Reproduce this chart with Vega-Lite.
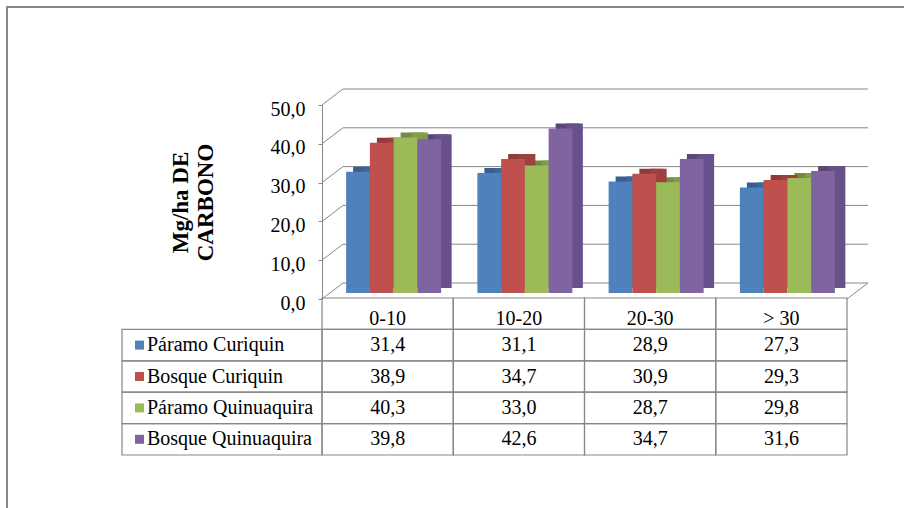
{
  "$schema": "https://vega.github.io/schema/vega-lite/v6.json",
  "width": 900,
  "height": 505,
  "autosize": {"type": "none"},
  "padding": {"left": 7, "top": 7, "right": 0, "bottom": 0},
  "background": "white",
  "config": {
    "view": {"stroke": "#878787", "strokeWidth": 2},
    "locale": {"number": {"decimal": ",", "thousands": ".", "grouping": [3], "currency": ["", " €"]}},
    "font": "Liberation Serif"
  },
  "datasets": {
    "carbono": [
      {"cat": "0-10", "serie": "Páramo Curiquin", "v": 31.4},
      {"cat": "0-10", "serie": "Bosque Curiquin", "v": 38.9},
      {"cat": "0-10", "serie": "Páramo Quinuaquira", "v": 40.3},
      {"cat": "0-10", "serie": "Bosque Quinuaquira", "v": 39.8},
      {"cat": "10-20", "serie": "Páramo Curiquin", "v": 31.1},
      {"cat": "10-20", "serie": "Bosque Curiquin", "v": 34.7},
      {"cat": "10-20", "serie": "Páramo Quinuaquira", "v": 33.0},
      {"cat": "10-20", "serie": "Bosque Quinuaquira", "v": 42.6},
      {"cat": "20-30", "serie": "Páramo Curiquin", "v": 28.9},
      {"cat": "20-30", "serie": "Bosque Curiquin", "v": 30.9},
      {"cat": "20-30", "serie": "Páramo Quinuaquira", "v": 28.7},
      {"cat": "20-30", "serie": "Bosque Quinuaquira", "v": 34.7},
      {"cat": "> 30", "serie": "Páramo Curiquin", "v": 27.3},
      {"cat": "> 30", "serie": "Bosque Curiquin", "v": 29.3},
      {"cat": "> 30", "serie": "Páramo Quinuaquira", "v": 29.8},
      {"cat": "> 30", "serie": "Bosque Quinuaquira", "v": 31.6}
    ],
    "ticks": [{"v": 0}, {"v": 10}, {"v": 20}, {"v": 30}, {"v": 40}, {"v": 50}],
    "series": [{"serie": "Páramo Curiquin"}, {"serie": "Bosque Curiquin"}, {"serie": "Páramo Quinuaquira"}, {"serie": "Bosque Quinuaquira"}],
    "cats": [{"cat": "0-10"}, {"cat": "10-20"}, {"cat": "20-30"}, {"cat": "> 30"}]
  },
  "resolve": {"scale": {"x": "independent", "y": "independent", "color": "independent", "xOffset": "independent"}},
  "layer": [
    {
      "data": {"name": "ticks"},
      "mark": {"type": "rule", "color": "#878787", "strokeWidth": 1, "xOffset": 21, "x2Offset": 21, "yOffset": -16},
      "encoding": {
        "x": {"datum": 0, "type": "quantitative", "scale": {"domain": [0, 1], "range": [315, 840]}, "axis": null},
        "x2": {"datum": 1},
        "y": {"field": "v", "type": "quantitative", "scale": {"domain": [0, 50], "range": [292, 98], "nice": false},
          "axis": {"orient": "left", "offset": -315, "values": [0, 10, 20, 30, 40, 50], "format": ".1f", "grid": false,
            "domainColor": "#878787", "tickColor": "#878787", "tickSize": 4, "labelPadding": 13,
            "labelFont": "Liberation Serif", "labelFontSize": 20, "labelColor": "black", "labelOffset": 4,
            "title": ["Mg/ha DE", "CARBONO"], "titleFont": "Liberation Serif", "titleFontSize": 23, "titleFontWeight": "bold",
            "titleColor": "black", "titlePadding": 53, "titleLineHeight": 25}}
      }
    },
    {
      "data": {"name": "ticks"},
      "mark": {"type": "rule", "color": "#878787", "strokeWidth": 1, "x2Offset": 21, "y2Offset": -16},
      "encoding": {
        "x": {"datum": 0, "type": "quantitative", "scale": {"domain": [0, 1], "range": [315, 840]}, "axis": null},
        "x2": {"datum": 0},
        "y": {"field": "v", "type": "quantitative", "scale": {"domain": [0, 50], "range": [292, 98], "nice": false}, "axis": null},
        "y2": {"field": "v"}
      }
    },
    {
      "data": {"name": "ticks"},
      "transform": [{"filter": "datum.v == 0"}],
      "mark": {"type": "rule", "color": "#878787", "strokeWidth": 1, "x2Offset": 21, "y2Offset": -16},
      "encoding": {
        "x": {"datum": 1, "type": "quantitative", "scale": {"domain": [0, 1], "range": [315, 840]}, "axis": null},
        "x2": {"datum": 1},
        "y": {"field": "v", "type": "quantitative", "scale": {"domain": [0, 50], "range": [292, 98], "nice": false}, "axis": null},
        "y2": {"field": "v"}
      }
    },
    {
      "data": {"name": "carbono"},
      "mark": {"type": "bar"},
      "encoding": {
        "x": {"field": "cat", "type": "nominal", "sort": null, "scale": {"domain": ["0-10", "10-20", "20-30", "> 30"], "range": [328, 853], "paddingInner": 0.2762, "paddingOuter": 0.1381}, "axis": null},
        "xOffset": {"field": "serie", "type": "nominal", "scale": {"domain": ["Páramo Curiquin", "Bosque Curiquin", "Páramo Quinuaquira", "Bosque Quinuaquira"]}},
        "y": {"field": "v", "type": "quantitative", "scale": {"domain": [0, 50], "range": [281, 88], "nice": false}, "axis": null},
        "color": {"field": "serie", "type": "nominal", "scale": {"domain": ["Páramo Curiquin", "Bosque Curiquin", "Páramo Quinuaquira", "Bosque Quinuaquira"], "range": ["#375E8E", "#8F3B39", "#738B42", "#5A4775"]}, "legend": null}
      }
    },
    {
      "data": {"name": "carbono"},
      "mark": {"type": "bar", "width": {"band": 0.705}},
      "encoding": {
        "x": {"field": "cat", "type": "nominal", "sort": null, "scale": {"domain": ["0-10", "10-20", "20-30", "> 30"], "range": [324.5, 849.5], "paddingInner": 0.2762, "paddingOuter": 0.1381}, "axis": null},
        "xOffset": {"field": "serie", "type": "nominal", "scale": {"domain": ["Páramo Curiquin", "Bosque Curiquin", "Páramo Quinuaquira", "Bosque Quinuaquira"]}},
        "y": {"field": "v", "type": "quantitative", "scale": {"domain": [0, 50], "range": [281, 88], "nice": false}, "axis": null},
        "color": {"field": "serie", "type": "nominal", "scale": {"domain": ["Páramo Curiquin", "Bosque Curiquin", "Páramo Quinuaquira", "Bosque Quinuaquira"], "range": ["#3E6899", "#A0403E", "#819D49", "#68518A"]}, "legend": null}
      }
    },
    {
      "data": {"name": "carbono"},
      "mark": {"type": "bar"},
      "encoding": {
        "x": {"field": "cat", "type": "nominal", "sort": null, "scale": {"domain": ["0-10", "10-20", "20-30", "> 30"], "range": [321, 846], "paddingInner": 0.2762, "paddingOuter": 0.1381}, "axis": null},
        "xOffset": {"field": "serie", "type": "nominal", "scale": {"domain": ["Páramo Curiquin", "Bosque Curiquin", "Páramo Quinuaquira", "Bosque Quinuaquira"]}},
        "y": {"field": "v", "type": "quantitative", "scale": {"domain": [0, 50], "range": [286, 93], "nice": false}, "axis": null},
        "color": {"field": "serie", "type": "nominal", "scale": {"domain": ["Páramo Curiquin", "Bosque Curiquin", "Páramo Quinuaquira", "Bosque Quinuaquira"], "range": ["#4F81BD", "#C0504D", "#9BBB59", "#8064A2"]}, "legend": null}
      }
    },
    {
      "data": {"name": "carbono"},
      "mark": {"type": "rect", "fill": "transparent", "stroke": "#878787", "strokeWidth": 1.2},
      "encoding": {
        "x": {"field": "cat", "type": "nominal", "scale": {"domain": ["0-10", "10-20", "20-30", "> 30"], "range": [315, 840], "paddingInner": 0, "paddingOuter": 0}, "axis": null},
        "y": {"field": "serie", "type": "nominal", "scale": {"domain": ["hdr", "Páramo Curiquin", "Bosque Curiquin", "Páramo Quinuaquira", "Bosque Quinuaquira"], "range": [291, 448], "paddingInner": 0, "paddingOuter": 0}, "axis": null}
      }
    },
    {
      "data": {"name": "cats"},
      "mark": {"type": "rect", "fill": "transparent", "stroke": "#878787", "strokeWidth": 1.2},
      "encoding": {
        "x": {"field": "cat", "type": "nominal", "scale": {"domain": ["0-10", "10-20", "20-30", "> 30"], "range": [315, 840], "paddingInner": 0, "paddingOuter": 0}, "axis": null},
        "y": {"datum": "hdr", "type": "nominal", "scale": {"domain": ["hdr", "Páramo Curiquin", "Bosque Curiquin", "Páramo Quinuaquira", "Bosque Quinuaquira"], "range": [291, 448], "paddingInner": 0, "paddingOuter": 0}, "axis": null}
      }
    },
    {
      "data": {"name": "series"},
      "mark": {"type": "rect", "fill": "transparent", "stroke": "#878787", "strokeWidth": 1.2},
      "encoding": {
        "x": {"datum": "leg", "type": "nominal", "scale": {"domain": ["leg"], "range": [115, 315], "paddingInner": 0, "paddingOuter": 0}, "axis": null},
        "y": {"field": "serie", "type": "nominal", "scale": {"domain": ["hdr", "Páramo Curiquin", "Bosque Curiquin", "Páramo Quinuaquira", "Bosque Quinuaquira"], "range": [291, 448], "paddingInner": 0, "paddingOuter": 0}, "axis": null}
      }
    },
    {
      "data": {"name": "carbono"},
      "mark": {"type": "text", "align": "center", "baseline": "middle", "font": "Liberation Serif", "fontSize": 20, "color": "black"},
      "encoding": {
        "x": {"field": "cat", "type": "nominal", "scale": {"domain": ["0-10", "10-20", "20-30", "> 30"], "range": [315, 840], "paddingInner": 0, "paddingOuter": 0}, "axis": null},
        "y": {"field": "serie", "type": "nominal", "scale": {"domain": ["hdr", "Páramo Curiquin", "Bosque Curiquin", "Páramo Quinuaquira", "Bosque Quinuaquira"], "range": [291, 448], "paddingInner": 0, "paddingOuter": 0}, "axis": null},
        "text": {"field": "v", "type": "quantitative", "format": ".1f"}
      }
    },
    {
      "data": {"name": "cats"},
      "mark": {"type": "text", "align": "center", "baseline": "middle", "dy": 5, "font": "Liberation Serif", "fontSize": 20, "color": "black"},
      "encoding": {
        "x": {"field": "cat", "type": "nominal", "scale": {"domain": ["0-10", "10-20", "20-30", "> 30"], "range": [315, 840], "paddingInner": 0, "paddingOuter": 0}, "axis": null},
        "y": {"datum": "hdr", "type": "nominal", "scale": {"domain": ["hdr", "Páramo Curiquin", "Bosque Curiquin", "Páramo Quinuaquira", "Bosque Quinuaquira"], "range": [291, 448], "paddingInner": 0, "paddingOuter": 0}, "axis": null},
        "text": {"field": "cat", "type": "nominal"}
      }
    },
    {
      "data": {"name": "series"},
      "mark": {"type": "point", "shape": "square", "filled": true, "opacity": 1, "size": 81, "xOffset": 17.5},
      "encoding": {
        "x": {"datum": 0, "type": "quantitative", "scale": {"domain": [0, 1], "range": [115, 315]}, "axis": null},
        "y": {"field": "serie", "type": "nominal", "scale": {"domain": ["hdr", "Páramo Curiquin", "Bosque Curiquin", "Páramo Quinuaquira", "Bosque Quinuaquira"], "range": [291, 448], "paddingInner": 0, "paddingOuter": 0}, "axis": null},
        "color": {"field": "serie", "type": "nominal", "scale": {"domain": ["Páramo Curiquin", "Bosque Curiquin", "Páramo Quinuaquira", "Bosque Quinuaquira"], "range": ["#4F81BD", "#C0504D", "#9BBB59", "#8064A2"]}, "legend": null}
      }
    },
    {
      "data": {"name": "series"},
      "mark": {"type": "text", "align": "left", "baseline": "middle", "dx": 25, "font": "Liberation Serif", "fontSize": 20, "color": "black"},
      "encoding": {
        "x": {"datum": 0, "type": "quantitative", "scale": {"domain": [0, 1], "range": [115, 315]}, "axis": null},
        "y": {"field": "serie", "type": "nominal", "scale": {"domain": ["hdr", "Páramo Curiquin", "Bosque Curiquin", "Páramo Quinuaquira", "Bosque Quinuaquira"], "range": [291, 448], "paddingInner": 0, "paddingOuter": 0}, "axis": null},
        "text": {"field": "serie", "type": "nominal"}
      }
    }
  ]
}
